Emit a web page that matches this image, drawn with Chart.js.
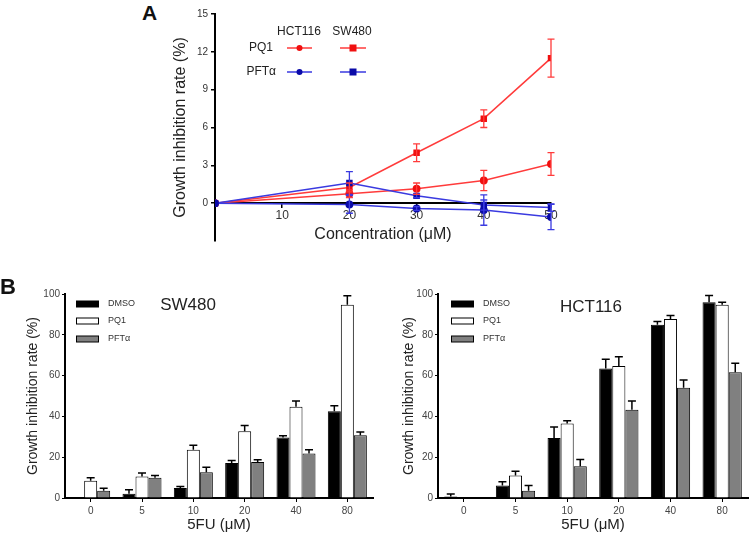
<!DOCTYPE html>
<html><head><meta charset="utf-8">
<script src="https://cdn.jsdelivr.net/npm/chart.js@4.4.1/dist/chart.umd.min.js"></script>
<style>
body{margin:0;background:#fff;width:750px;height:534px;position:relative;overflow:hidden;font-family:"Liberation Sans",Arial,sans-serif;}
canvas{position:absolute;}
.lbl{position:absolute;font-weight:bold;color:#111;line-height:1;}
</style></head><body>
<canvas id="cA" width="410" height="255" style="left:160px;top:0"></canvas>
<canvas id="cB1" width="375" height="264" style="left:0;top:270px"></canvas>
<canvas id="cB2" width="375" height="264" style="left:375px;top:270px"></canvas>
<div class="lbl" style="left:142px;top:2px;font-size:21px">A</div>
<div class="lbl" style="left:0px;top:276px;font-size:22px">B</div>
<script>
// ---------- Panel A data ----------
const concentrations = [0, 20, 30, 40, 50];
const hctPQ1 = [0, 0.75, 1.15, 1.8, 3.1];
const hctPQ1Err = [0, 0.3, 0.45, 0.8, 0.9];
const swPQ1 = [0, 1.25, 4.0, 6.7, 11.5];
const swPQ1Err = [0, 0.35, 0.7, 0.7, 1.5];
const hctPFT = [0, -0.1, -0.42, -0.55, -1.1];
const hctPFTErr = [0, 0.7, 0.15, 1.2, 1.0];
const swPFT = [0, 1.6, 0.58, -0.15, -0.35];
const swPFTErr = [0, 0.9, 0.15, 0.4, 0.3];
const yTicksA = [0, 3, 6, 9, 12, 15];

// ---------- Panel B data ----------
const doses = ['0', '5', '10', '20', '40', '80'];
const swDMSO = [0, 2.1, 4.9, 17.2, 29.6, 42.5];
const swDMSOErr = [0, 2.0, 0.7, 1.2, 0.9, 2.7];
const swPQ1B = [8.5, 10.5, 23.6, 32.7, 44.7, 94.7];
const swPQ1BErr = [1.4, 1.8, 2.2, 2.8, 2.9, 4.5];
const swPFTB = [3.6, 9.9, 12.6, 17.7, 21.8, 30.7];
const swPFTBErr = [1.2, 1.1, 2.5, 1.0, 1.8, 1.6];
const hctDMSO = [0.7, 6.1, 29.4, 63.5, 84.9, 96];
const hctDMSOErr = [1.3, 1.9, 5.4, 4.5, 1.6, 3.3];
const hctPQ1B = [0, 11, 36.5, 64.7, 87.7, 94.7];
const hctPQ1BErr = [0, 2.1, 1.4, 4.6, 1.8, 1.3];
const hctPFTB = [0, 3.6, 15.6, 43.3, 54, 61.6];
const hctPFTBErr = [0, 2.5, 3.3, 4.3, 3.8, 4.4];

const F = '"Liberation Sans", Arial, sans-serif';
const RED = '#ff3b3b', RED_M = '#f01010', BLUE = '#3a3ae0', BLUE_M = '#0a0aa8';

// ---------- Panel A ----------
const pts = arr => concentrations.map((c, i) => ({x: c, y: arr[i]}));
const lineErrPlugin = {
  id: 'lineErr',
  afterDatasetsDraw(chart) {
    const ctx = chart.ctx, ys = chart.scales.y;
    chart.data.datasets.forEach((ds, i) => {
      const meta = chart.getDatasetMeta(i);
      meta.data.forEach((p, j) => {
        const e = ds.errorBars[j];
        if (!e) return;
        const v = ds.data[j].y;
        const t = ys.getPixelForValue(v + e), b = ys.getPixelForValue(v - e);
        ctx.save();
        ctx.strokeStyle = ds.borderColor; ctx.lineWidth = 1.3;
        ctx.beginPath();
        ctx.moveTo(p.x, t); ctx.lineTo(p.x, b);
        ctx.moveTo(p.x - 3.5, t); ctx.lineTo(p.x + 3.5, t);
        ctx.moveTo(p.x - 3.5, b); ctx.lineTo(p.x + 3.5, b);
        ctx.stroke(); ctx.restore();
      });
    });
  },
  afterDraw(chart) {
    const ctx = chart.ctx;
    ctx.save();
    ctx.fillStyle = '#222';
    ctx.font = '12px ' + F;
    ctx.textBaseline = 'middle';
    ctx.textAlign = 'center';
    ctx.fillText('HCT116', 139, 32);
    ctx.fillText('SW480', 192, 32);
    ctx.textAlign = 'right';
    ctx.fillText('PQ1', 113, 48);
    ctx.fillText('PFTα', 116, 72);
    const seg = (x0, x1, y, col, mcol, square) => {
      ctx.strokeStyle = col; ctx.lineWidth = 1.5;
      ctx.beginPath(); ctx.moveTo(x0, y); ctx.lineTo(x1, y); ctx.stroke();
      ctx.fillStyle = mcol;
      const cx = (x0 + x1) / 2;
      if (square) ctx.fillRect(cx - 3.5, y - 3.5, 7, 7);
      else { ctx.beginPath(); ctx.arc(cx, y, 3, 0, Math.PI * 2); ctx.fill(); }
    };
    seg(127, 152, 48, RED, RED_M, false);
    seg(180, 206, 48, RED, RED_M, true);
    seg(127, 152, 72, BLUE, BLUE_M, false);
    seg(180, 206, 72, BLUE, BLUE_M, true);
    ctx.restore();
  }
};

const lineDs = (label, arr, err, col, mcol, style) => ({
  label, data: pts(arr), errorBars: err,
  borderColor: col, backgroundColor: mcol, pointBackgroundColor: mcol, pointBorderColor: mcol,
  pointStyle: style, pointRadius: style === 'rect' ? 3.5 : 3.2, borderWidth: 1.5, tension: 0, fill: false
});

new Chart(document.getElementById('cA'), {
  type: 'line',
  data: {
    datasets: [
      lineDs('HCT116 PFTα', hctPFT, hctPFTErr, BLUE, BLUE_M, 'circle'),
      lineDs('SW480 PFTα', swPFT, swPFTErr, BLUE, BLUE_M, 'rect'),
      lineDs('HCT116 PQ1', hctPQ1, hctPQ1Err, RED, RED_M, 'circle'),
      lineDs('SW480 PQ1', swPQ1, swPQ1Err, RED, RED_M, 'rect')
    ]
  },
  options: {
    responsive: false, animation: false, devicePixelRatio: 1,
    layout: {padding: {top: 14, right: 19, bottom: 14, left: 0}},
    plugins: {legend: {display: false}, tooltip: {enabled: false}},
    scales: {
      x: {
        type: 'linear', position: {y: 0}, min: 0, max: 50,
        ticks: {stepSize: 10, font: {size: 12, family: F}, color: '#333', padding: 1},
        afterBuildTicks: s => { s.ticks = s.ticks.filter(t => t.value > 0); },
        grid: {drawOnChartArea: false, drawTicks: true, tickLength: 4, color: '#000', lineWidth: 1.5},
        border: {color: '#000', width: 2},
        title: {display: true, text: 'Concentration (μM)', font: {size: 16, family: F}, color: '#222', padding: {top: 0, bottom: 0}},
        afterFit: s => { s.height = 41; }
      },
      y: {
        min: -3, max: 15,
        ticks: {stepSize: 3, font: {size: 10, family: F}, color: '#333', padding: 3},
        afterBuildTicks: s => { s.ticks = yTicksA.map(v => ({value: v})); },
        grid: {drawOnChartArea: false, drawTicks: true, tickLength: 4, color: '#000', lineWidth: 1.5},
        border: {color: '#000', width: 2},
        title: {display: true, text: 'Growth inhibition rate (%)', font: {size: 16, family: F}, color: '#222', padding: {top: 11, bottom: 0}},
        afterFit: s => { s.width = 55; }
      }
    }
  },
  plugins: [lineErrPlugin]
});

// ---------- Panel B ----------
function makeBarPlugin(title, tx, ty) {
  return {
    id: 'barExtras',
    afterDatasetsDraw(chart) {
      const ctx = chart.ctx, ys = chart.scales.y;
      chart.data.datasets.forEach((ds, i) => {
        const meta = chart.getDatasetMeta(i);
        meta.data.forEach((bar, j) => {
          const e = ds.errorBars[j];
          if (!e) return;
          const top = ys.getPixelForValue(ds.data[j] + e);
          ctx.save();
          ctx.strokeStyle = '#000'; ctx.lineWidth = 1.5;
          ctx.beginPath();
          ctx.moveTo(bar.x, bar.y); ctx.lineTo(bar.x, top);
          ctx.moveTo(bar.x - 4, top); ctx.lineTo(bar.x + 4, top);
          ctx.stroke(); ctx.restore();
        });
      });
    },
    afterDraw(chart) {
      const ctx = chart.ctx;
      ctx.save();
      const rows = [34, 51, 69];
      chart.data.datasets.forEach((ds, i) => {
        ctx.fillStyle = ds.backgroundColor;
        ctx.strokeStyle = '#000'; ctx.lineWidth = 1;
        ctx.fillRect(76.5, rows[i] - 3, 22, 6);
        ctx.strokeRect(76.5, rows[i] - 3, 22, 6);
        ctx.fillStyle = '#333';
        ctx.font = '9px ' + F;
        ctx.textBaseline = 'middle'; ctx.textAlign = 'left';
        ctx.fillText(ds.label, 108, rows[i]);
      });
      ctx.fillStyle = '#222';
      ctx.font = '17px ' + F;
      ctx.textAlign = 'center'; ctx.textBaseline = 'middle';
      ctx.fillText(title, tx, ty);
      ctx.restore();
    }
  };
}

function barChart(id, title, tx, ty, yW, titlePad, d1, e1, d2, e2, d3, e3) {
  new Chart(document.getElementById(id), {
    type: 'bar',
    data: {
      labels: doses,
      datasets: [
        {label: 'DMSO', data: d1, errorBars: e1, backgroundColor: '#000000', borderColor: '#000', borderWidth: 1},
        {label: 'PQ1', data: d2, errorBars: e2, backgroundColor: '#ffffff', borderColor: '#000', borderWidth: 1},
        {label: 'PFTα', data: d3, errorBars: e3, backgroundColor: '#808080', borderColor: '#000', borderWidth: 1}
      ]
    },
    options: {
      responsive: false, animation: false, devicePixelRatio: 1,
      layout: {padding: {top: 24, right: 2, bottom: 0, left: 0}},
      datasets: {bar: {categoryPercentage: 0.76, barPercentage: 1, borderSkipped: 'start'}},
      plugins: {legend: {display: false}, tooltip: {enabled: false}},
      scales: {
        x: {
          ticks: {font: {size: 10, family: F}, color: '#444', padding: 3},
          grid: {display: true, drawOnChartArea: false, offset: false, tickLength: 4, color: '#000'},
          border: {color: '#000', width: 2},
          title: {display: true, text: '5FU (μM)', font: {size: 15, family: F}, color: '#222', padding: {top: 0, bottom: 0}},
          afterFit: s => { s.height = 36; }
        },
        y: {
          min: 0, max: 100,
          ticks: {stepSize: 20, font: {size: 10, family: F}, color: '#444', padding: 2},
          grid: {drawOnChartArea: false, drawTicks: true, tickLength: 3, color: '#000'},
          border: {color: '#000', width: 2},
          title: {display: true, text: 'Growth inhibition rate (%)', font: {size: 14, family: F}, color: '#222', padding: {top: titlePad, bottom: 0}},
          afterFit: s => { s.width = yW; }
        }
      }
    },
    plugins: [makeBarPlugin(title, tx, ty)]
  });
}

barChart('cB1', 'SW480', 188, 35, 65, 25, swDMSO, swDMSOErr, swPQ1B, swPQ1BErr, swPFTB, swPFTBErr);
barChart('cB2', 'HCT116', 216, 37, 63, 26, hctDMSO, hctDMSOErr, hctPQ1B, hctPQ1BErr, hctPFTB, hctPFTBErr);
</script>
</body></html>
